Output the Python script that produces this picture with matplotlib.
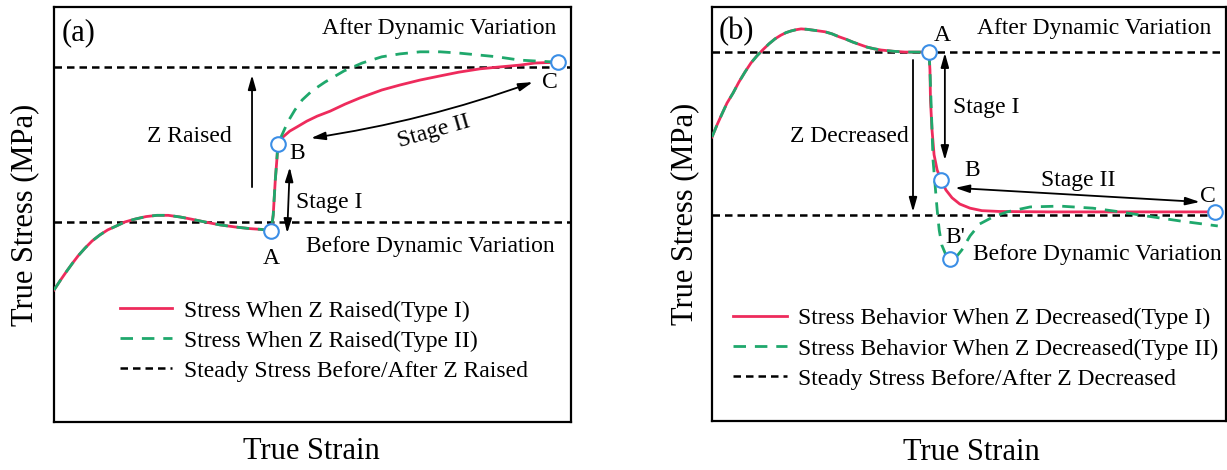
import matplotlib
matplotlib.use('Agg')
import matplotlib.pyplot as plt

plt.rcParams['font.family'] = ['Liberation Serif', 'DejaVu Serif']
plt.rcParams['font.size'] = 17

RED = '#ee2b5c'
GREEN = '#1fa86c'
BLUE = '#3b8ee6'

# ---- (a) Z raised ----
# common path: loading, peak, softening to A, then the jump to B
a_base_x = [0, 1.16, 2.32, 3.48, 4.64, 6.0, 7.35, 8.9, 10.4, 12.0, 13.7, 15.7, 17.8, 19.9,
            22.1, 24.4, 26.5, 29.2, 32.1, 35.0, 37.9, 40.2, 42.0,
            42.4, 42.8, 43.1, 43.3]
a_base_y = [31.8, 34.0, 36.1, 38.1, 40.0, 41.9, 43.6, 45.1, 46.3, 47.2, 48.2, 48.9, 49.5, 49.8,
            49.8, 49.4, 48.9, 48.2, 47.5, 47.0, 46.6, 46.4, 46.0,
            49.9, 58.3, 63.1, 67.0]
# type I: monotonic hardening B -> C
a_t1_x = [44.3, 45.6, 47.0, 48.9, 50.9, 53.4, 56.3, 59.2, 63.4, 66.9, 70.8, 74.7, 78.3,
          82.4, 85.7, 90.1, 93.0, 97.5]
a_t1_y = [68.7, 70.1, 71.1, 72.5, 73.7, 74.9, 76.6, 78.1, 80.0, 81.2, 82.4, 83.4, 84.3,
          85.1, 85.5, 86.0, 86.5, 86.7]
# type II: overshoot then relax to C
a_t2_x = [44.1, 45.3, 46.6, 48.0, 49.9, 52.4, 56.1, 59.6, 63.4, 66.9, 70.8, 74.7, 78.3,
          82.4, 85.7, 90.1, 93.0, 97.5]
a_t2_y = [69.2, 72.5, 75.2, 77.6, 79.8, 81.9, 84.6, 86.5, 88.0, 88.7, 89.2, 89.2, 88.9,
          88.4, 88.0, 87.2, 87.0, 86.7]
a_steady = [48.1, 85.5]          # before / after
a_pts_x = [42.0, 43.3, 97.5]     # A, B, C
a_pts_y = [46.0, 67.0, 86.7]

# ---- (b) Z decreased ----
b_base_x = [0, 0.97, 1.95, 2.92, 4.09, 5.25, 6.42, 7.59, 8.75, 9.92, 11.09, 12.26, 13.42,
            14.4, 15.37, 16.34, 17.32, 18.48, 19.65, 20.82, 21.98, 23.35, 24.71, 26.07,
            27.43, 28.79, 30.16, 31.52, 32.88, 35.21, 37.55, 40.08, 42.2, 42.4]
b_base_y = [68.6, 71.5, 74.2, 76.8, 79.2, 81.9, 84.3, 86.5, 88.2, 89.7, 91.1, 92.3, 93.2,
            93.8, 94.2, 94.5, 94.7, 94.6, 94.4, 94.2, 94.0, 93.5, 92.8, 92.2,
            91.5, 90.9, 90.3, 89.9, 89.6, 89.3, 89.1, 89.1, 89.1, 84.8]
b_t1_x = [42.5, 42.8, 43.2, 43.8, 44.6, 45.5, 46.7, 48.2, 50.2, 52.5, 56.0, 65.8, 75.5,
          85.2, 97.9]
b_t1_y = [77.5, 70.3, 64.3, 60.6, 58.2, 55.8, 53.9, 52.4, 51.4, 50.8, 50.6, 50.5, 50.5,
          50.5, 50.5]
b_t2_x = [42.6, 42.8, 43.0, 43.4, 43.8, 44.2, 44.7, 45.5, 46.3, 47.5, 48.6, 50.2, 52.1,
          54.7, 57.4, 61.9, 67.7, 74.1, 79.4, 84.6, 91.1, 98.4]
b_t2_y = [77.5, 70.3, 63.0, 57.0, 51.0, 46.1, 42.5, 40.1, 39.1, 39.6, 41.3, 44.7, 47.6,
          49.3, 50.5, 51.7, 51.9, 51.4, 50.5, 49.5, 48.3, 47.1]
b_steady = [49.8, 89.1]
b_pts_x = [42.2, 44.6, 97.9, 46.3]   # A, B, C, B'
b_pts_y = [89.1, 58.2, 50.5, 39.1]

fig = plt.figure(figsize=(12.27, 4.70), dpi=100)
ax1 = fig.add_axes([0.0440, 0.1021, 0.4214, 0.8830])
ax2 = fig.add_axes([0.5803, 0.1043, 0.4189, 0.8809])

green_dash = (0, (4.5, 3.2))
black_dash = (0, (3, 2))


def arrow(ax, start, end, style='-|>', rad=0.0):
    ax.annotate('', xy=end, xytext=start,
                arrowprops=dict(arrowstyle=style + ',head_length=0.85,head_width=0.24',
                                color='black', lw=1.3, shrinkA=0, shrinkB=0,
                                mutation_scale=10,
                                connectionstyle='arc3,rad=%s' % rad))


def draw_panel(ax, base_x, base_y, t1_x, t1_y, t2_x, t2_y, steady, labels):
    ax.plot(base_x + t1_x, base_y + t1_y, color=RED, lw=2, zorder=3, label=labels[0])
    ax.plot(base_x + t2_x, base_y + t2_y, color=GREEN, lw=2, ls=green_dash, zorder=4,
            label=labels[1])
    for i, lvl in enumerate(steady):
        ax.axhline(lvl, color='black', lw=1.8, ls=black_dash, zorder=2,
                   label=labels[2] if i == 0 else None)
    ax.set_xlim(0, 100)
    ax.set_ylim(0, 100)
    ax.set_xticks([])
    ax.set_yticks([])
    for s in ax.spines.values():
        s.set_linewidth(1.6)
    ax.set_xlabel('True Strain', fontsize=22, va='center')
    ax.set_ylabel('True Stress (MPa)', fontsize=22, va='center')


# panel (a)
draw_panel(ax1, a_base_x, a_base_y, a_t1_x, a_t1_y, a_t2_x, a_t2_y, a_steady,
           ['Stress When Z Raised(Type I)', 'Stress When Z Raised(Type II)',
            'Steady Stress Before/After Z Raised'])
ax1.plot(a_pts_x, a_pts_y, 'o', ms=10.5, mfc='white', mec=BLUE, mew=1.5, zorder=5)
ax1.xaxis.set_label_coords(0.497, -0.072)
ax1.yaxis.set_label_coords(-0.056, 0.5)

ax1.text(1.4, 93.7, '(a)', fontsize=22, ha='left', va='center')
ax1.text(97.1, 94.9, 'After Dynamic Variation', ha='right', va='center')
ax1.text(96.9, 42.2, 'Before Dynamic Variation', ha='right', va='center')
ax1.text(26.1, 68.7, 'Z Raised', ha='center', va='center')
ax1.text(53.2, 53.0, 'Stage I', ha='center', va='center')
ax1.text(73.5, 69.9, 'Stage II', rotation=16, ha='center', va='center')
ax1.text(42.0, 39.5, 'A', ha='center', va='center')
ax1.text(47.0, 64.8, 'B', ha='center', va='center')
ax1.text(95.9, 81.9, 'C', ha='center', va='center')

arrow(ax1, (38.3, 56.6), (38.3, 83.6))
arrow(ax1, (45.6, 61.4), (45.1, 45.5), '<|-|>')
arrow(ax1, (49.7, 68.4), (92.6, 81.9), '<|-|>', rad=0.05)

ax1.legend(loc='upper left', bbox_to_anchor=(0.128, 0.294), frameon=False,
           handlelength=2.2, handletextpad=0.5, labelspacing=0.36,
           borderpad=0, borderaxespad=0)

# panel (b)
draw_panel(ax2, b_base_x, b_base_y, b_t1_x, b_t1_y, b_t2_x, b_t2_y, b_steady,
           ['Stress Behavior When Z Decreased(Type I)',
            'Stress Behavior When Z Decreased(Type II)',
            'Steady Stress Before/After Z Decreased'])
ax2.plot(b_pts_x, b_pts_y, 'o', ms=10.5, mfc='white', mec=BLUE, mew=1.5, zorder=5)
ax2.xaxis.set_label_coords(0.504, -0.075)
ax2.yaxis.set_label_coords(-0.054, 0.5)

ax2.text(1.2, 94.0, '(b)', fontsize=22, ha='left', va='center')
ax2.text(51.6, 94.9, 'After Dynamic Variation', ha='left', va='center')
ax2.text(50.8, 40.1, 'Before Dynamic Variation', ha='left', va='center')
ax2.text(26.7, 68.6, 'Z Decreased', ha='center', va='center')
ax2.text(46.9, 75.6, 'Stage I', ha='left', va='center')
ax2.text(71.2, 58.2, 'Stage II', ha='center', va='center')
ax2.text(44.7, 93.2, 'A', ha='center', va='center')
ax2.text(50.6, 60.6, 'B', ha='center', va='center')
ax2.text(96.5, 54.1, 'C', ha='center', va='center')
ax2.text(47.3, 44.4, "B'", ha='center', va='center')

arrow(ax2, (39.1, 87.2), (39.1, 50.5))
arrow(ax2, (45.3, 88.9), (45.3, 63.0), '<|-|>')
arrow(ax2, (47.3, 56.3), (94.9, 52.9), '<|-|>')

ax2.legend(loc='upper left', bbox_to_anchor=(0.041, 0.273), frameon=False,
           handlelength=2.3, handletextpad=0.45, labelspacing=0.36,
           borderpad=0, borderaxespad=0)

fig.savefig('out.png', dpi=100)
